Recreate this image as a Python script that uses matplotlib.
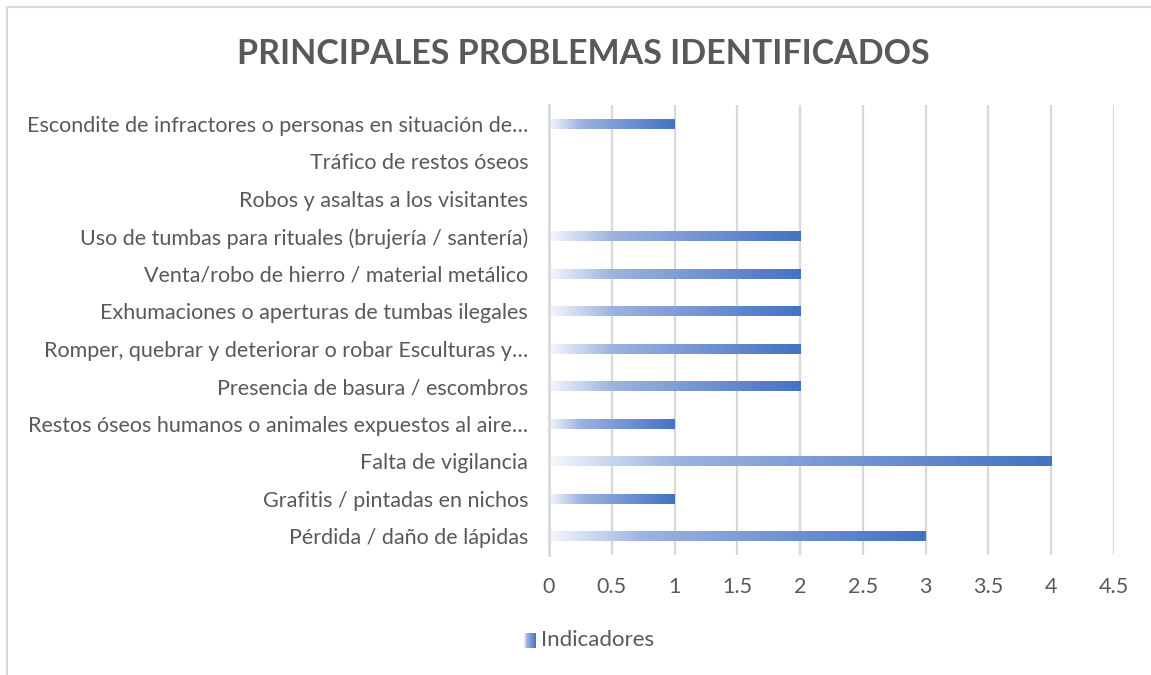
import matplotlib.pyplot as plt
import numpy as np
from matplotlib.colors import LinearSegmentedColormap
from matplotlib.patches import Rectangle

# categories from bottom to top, as they appear on the chart
problemas = [
    'Pérdida / daño de lápidas',
    'Grafitis / pintadas en nichos',
    'Falta de vigilancia',
    'Restos óseos humanos o animales expuestos al aire…',
    'Presencia de basura / escombros',
    'Romper, quebrar y deteriorar o robar Esculturas y…',
    'Exhumaciones o aperturas de tumbas ilegales',
    'Venta/robo de hierro / material metálico',
    'Uso de tumbas para rituales (brujería / santería)',
    'Robos y asaltas a los visitantes',
    'Tráfico de restos óseos',
    'Escondite de infractores o personas en situación de…',
]
indicadores = [3, 1, 4, 1, 2, 2, 2, 2, 2, 0, 0, 1]
x_ticks = [0, 0.5, 1, 1.5, 2, 2.5, 3, 3.5, 4, 4.5]

gray = '#595959'
grid_gray = '#D9D9D9'
plt.rcParams['font.family'] = ['Lato', 'DejaVu Sans']

# white -> light blue -> office blue, like the Excel gradient fill
cmap = LinearSegmentedColormap.from_list(
    'grad', [(0.0, '#F4F7FC'), (0.25, '#9DB3E0'), (1.0, '#4472C4')])
grad = np.linspace(0, 1, 256).reshape(1, -1)

fig = plt.figure(figsize=(11.51, 6.75), dpi=100)
ax = fig.add_axes([549 / 1151, 1 - 555 / 675, (1114 - 549) / 1151, 450 / 675])

y = np.arange(len(problemas))
bars = ax.barh(y, indicadores, height=0.27, color='none', zorder=3)
for b in bars:
    if b.get_width() <= 0:
        continue
    x0, y0 = b.get_x(), b.get_y()
    im = ax.imshow(grad, cmap=cmap, aspect='auto', zorder=3,
                   extent=[x0, x0 + b.get_width(), y0, y0 + b.get_height()])
    im.set_clip_path(b)

ax.set_xlim(0, 4.5)
ax.set_ylim(-0.5, len(problemas) - 0.5)
ax.set_xticks(x_ticks)
ax.set_xticklabels([f'{t:g}' for t in x_ticks])
ax.set_yticks(y)
ax.set_yticklabels(problemas)
ax.tick_params(length=0, labelsize=15.5, colors=gray)
ax.tick_params(axis='y', pad=15)
ax.tick_params(axis='x', pad=16)

ax.grid(axis='x', color=grid_gray, linewidth=1.6, zorder=0)
for s in ['top', 'right', 'bottom']:
    ax.spines[s].set_visible(False)
ax.spines['left'].set_color(grid_gray)
ax.spines['left'].set_linewidth(2)
ax.spines['left'].set_zorder(4)

fig.text(583 / 1151, 1 - 54 / 675, 'PRINCIPALES PROBLEMAS IDENTIFICADOS',
         ha='center', va='center', fontsize=24.5, fontweight='bold', color=gray)

# legend: small gradient square + label
lax = fig.add_axes([524 / 1151, 1 - 648 / 675, 12 / 1151, 15 / 675])
lax.imshow(grad, cmap=cmap, aspect='auto')
lax.axis('off')
fig.text(541 / 1151, 1 - 640 / 675, 'Indicadores', ha='left', va='center',
         fontsize=16, color=gray)

# chart border (cropped at right and bottom)
fig.patches.append(Rectangle((7 / 1151, -0.05), 1.2, 1 - 7 / 675 + 0.05,
                             transform=fig.transFigure, fill=False,
                             edgecolor=grid_gray, linewidth=1.5))

fig.savefig('out.png', dpi=100)
